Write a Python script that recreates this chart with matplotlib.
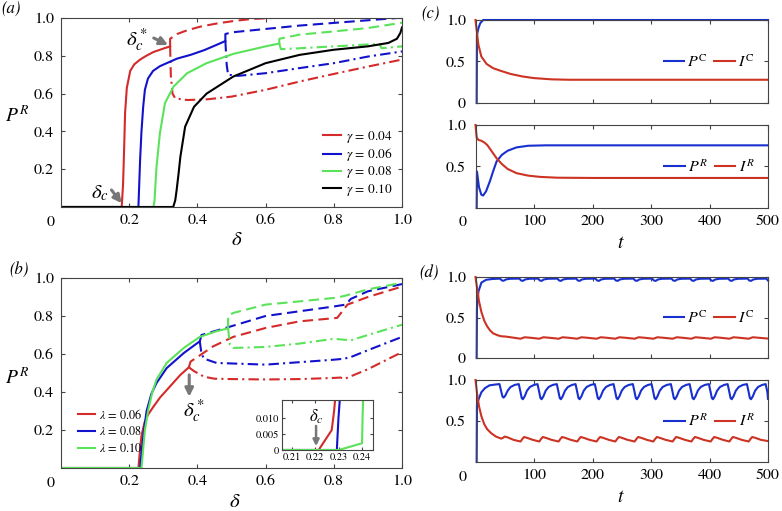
""" Bifurcation diagrams and time series of P/I fractions """
import matplotlib
matplotlib.use('Agg')
import matplotlib.pyplot as plt

# ---------------- panel (a): P^R vs delta, several gamma ----------------
GAMMA_LABELS = ['0.04', '0.06', '0.08', '0.10']

A_SOLID_D = [
    [0, 0.178, 0.182, 0.185, 0.188, 0.193, 0.203, 0.215, 0.232, 0.25, 0.271, 0.295, 0.32],
    [0, 0.227, 0.229, 0.232, 0.236, 0.241, 0.246, 0.255, 0.27, 0.29, 0.34, 0.38, 0.42,
     0.45, 0.482],
    [0, 0.271, 0.274, 0.28, 0.29, 0.305, 0.33, 0.37, 0.427, 0.505, 0.6, 0.64],
    [0, 0.329, 0.335, 0.339, 0.345, 0.35, 0.364, 0.39, 0.427, 0.505, 0.6, 0.7, 0.8, 0.9,
     0.96, 0.985, 0.995, 1.0],
]
A_SOLID_P = [
    [0, 0, 0.12, 0.30, 0.50, 0.63, 0.72, 0.755, 0.78, 0.80, 0.82, 0.835, 0.85],
    [0, 0, 0.10, 0.25, 0.40, 0.53, 0.62, 0.68, 0.72, 0.745, 0.785, 0.805, 0.83, 0.853,
     0.878],
    [0, 0, 0.027, 0.21, 0.39, 0.55, 0.637, 0.708, 0.761, 0.81, 0.85, 0.865],
    [0, 0, 0.035, 0.088, 0.18, 0.265, 0.425, 0.53, 0.60, 0.69, 0.761, 0.805, 0.832, 0.85,
     0.868, 0.89, 0.92, 0.95],
]
# upper (dashed) branch after delta_c*
A_UP_D = [
    [0.32, 0.32, 0.34, 0.37, 0.41, 0.46, 0.51, 0.56, 0.62],
    [0.482, 0.482, 0.5, 0.6, 0.7, 0.8, 0.9, 0.985],
    [0.64, 0.64, 0.7, 0.8, 0.9, 1.0],
    [],
]
A_UP_P = [
    [0.85, 0.89, 0.915, 0.935, 0.955, 0.972, 0.985, 0.995, 1.0],
    [0.878, 0.915, 0.924, 0.942, 0.96, 0.974, 0.988, 1.0],
    [0.865, 0.89, 0.912, 0.929, 0.947, 0.975],
    [],
]
# lower (dash-dot) branch after delta_c*
A_LO_D = [
    [0.32, 0.322, 0.327, 0.335, 0.37, 0.43, 0.5, 0.6, 0.7, 0.8, 0.9, 1.0],
    [0.482, 0.486, 0.49, 0.52, 0.6, 0.7, 0.8, 0.9, 1.0],
    [0.64, 0.645, 0.7, 0.8, 0.9, 0.935, 0.94, 1.0],
    [],
]
A_LO_P = [
    [0.85, 0.70, 0.60, 0.575, 0.566, 0.57, 0.584, 0.62, 0.664, 0.704, 0.743, 0.78],
    [0.878, 0.75, 0.70, 0.694, 0.708, 0.735, 0.761, 0.796, 0.823],
    [0.865, 0.835, 0.84, 0.85, 0.86, 0.862, 0.84, 0.85],
    [],
]

# ---------------- panel (b): P^R vs delta, several lambda ----------------
LAMBDA_LABELS = ['0.06', '0.08', '0.10']

B_SOLID_D = [
    [0, 0.227, 0.232, 0.236, 0.245, 0.255, 0.27, 0.29, 0.31, 0.33, 0.35, 0.375],
    [0, 0.232, 0.236, 0.242, 0.251, 0.265, 0.28, 0.31, 0.36, 0.407],
    [0, 0.236, 0.24, 0.246, 0.256, 0.268, 0.28, 0.31, 0.36, 0.407, 0.456, 0.49],
]
B_SOLID_P = [
    [0, 0, 0.10, 0.17, 0.24, 0.28, 0.32, 0.37, 0.41, 0.45, 0.49, 0.53],
    [0, 0, 0.08, 0.18, 0.30, 0.39, 0.447, 0.526, 0.605, 0.667],
    [0, 0, 0.08, 0.20, 0.307, 0.40, 0.465, 0.553, 0.632, 0.69, 0.72, 0.735],
]
B_UP_D = [
    [0.375, 0.38, 0.446, 0.505, 0.6, 0.7, 0.81, 0.84, 0.9, 1.0],
    [0.407, 0.412, 0.505, 0.6, 0.7, 0.8, 0.835, 0.85, 0.9, 1.0],
    [0.49, 0.49, 0.505, 0.6, 0.7, 0.8, 0.83, 0.9, 1.0],
]
B_UP_P = [
    [0.53, 0.56, 0.64, 0.69, 0.737, 0.772, 0.79, 0.86, 0.90, 0.955],
    [0.667, 0.70, 0.749, 0.80, 0.825, 0.85, 0.86, 0.89, 0.93, 0.968],
    [0.735, 0.80, 0.816, 0.86, 0.877, 0.895, 0.905, 0.94, 0.975],
]
B_LO_D = [
    [0.375, 0.39, 0.42, 0.45, 0.5, 0.6, 0.7, 0.8, 0.82, 0.83, 0.9, 1.0],
    [0.407, 0.412, 0.42, 0.456, 0.6, 0.8, 0.83, 0.85, 0.9, 1.0],
    [0.49, 0.495, 0.505, 0.6, 0.7, 0.8, 0.85, 0.9, 1.0],
]
B_LO_P = [
    [0.53, 0.51, 0.48, 0.47, 0.468, 0.466, 0.468, 0.474, 0.476, 0.468, 0.52, 0.61],
    [0.667, 0.60, 0.575, 0.553, 0.544, 0.57, 0.575, 0.584, 0.62, 0.69],
    [0.735, 0.65, 0.632, 0.637, 0.655, 0.68, 0.672, 0.70, 0.754],
]

# inset of (b): zoom near delta_c
INSET_D = [
    [0.2057, 0.2214, 0.227, 0.228, 0.2285],
    [0.2057, 0.2292, 0.2299, 0.2305],
    [0.2057, 0.230, 0.240, 0.2403, 0.2405],
]
INSET_P = [
    [0, 0, 0.0062, 0.012, 0.016],
    [0, 0, 0.010, 0.016],
    [0, 0, 0.0021, 0.012, 0.016],
]

# ---------------- panel (c): time series, steady state ----------------
C_PC_T = [2, 2.5, 5, 8, 13, 500]
C_PC = [0, 0.82, 0.90, 0.96, 1.0, 1.0]
C_IC_T = [0, 2, 5, 10, 19, 30, 42, 60, 80, 100, 130, 160, 500]
C_IC = [1.0, 0.88, 0.70, 0.56, 0.47, 0.42, 0.39, 0.35, 0.32, 0.30, 0.285, 0.28, 0.28]
C_PR_T = [2, 2.5, 6, 10, 13, 18, 25, 30, 36, 45, 55, 70, 90, 120, 500]
C_PR = [0, 0.44, 0.25, 0.16, 0.15, 0.20, 0.33, 0.44, 0.56, 0.64, 0.69, 0.73, 0.75, 0.755, 0.755]
C_IR_T = [0, 2, 5, 10, 15, 20, 25, 30, 36, 45, 55, 70, 90, 110, 140, 200, 500]
C_IR = [1.0, 0.85, 0.82, 0.81, 0.79, 0.76, 0.71, 0.66, 0.60, 0.53, 0.47, 0.42, 0.39,
        0.375, 0.365, 0.362, 0.362]

# ---------------- panel (d): time series, oscillating ----------------
D_PC_T = [2, 2.5, 5, 10, 18, 28,
          42, 45, 48, 52, 59,
          75, 78, 81, 85, 92,
          107, 110, 113, 117, 124,
          140, 143, 146, 150, 157,
          172, 175, 178, 182, 189,
          205, 208, 211, 215, 222,
          237, 240, 243, 247, 254,
          270, 273, 276, 280, 287,
          302, 305, 308, 312, 319,
          335, 338, 341, 345, 352,
          367, 370, 373, 377, 384,
          400, 403, 406, 410, 417,
          432, 435, 438, 442, 449,
          465, 468, 471, 475, 482,
          497, 500]
D_PC = [0, 0.62, 0.82, 0.93, 0.965, 0.975,
        0.98, 0.958, 0.953, 0.97, 0.978,
        0.98, 0.957, 0.952, 0.97, 0.978,
        0.98, 0.957, 0.952, 0.97, 0.978,
        0.98, 0.957, 0.952, 0.97, 0.978,
        0.98, 0.957, 0.952, 0.97, 0.978,
        0.98, 0.957, 0.952, 0.97, 0.978,
        0.98, 0.957, 0.952, 0.97, 0.978,
        0.98, 0.957, 0.952, 0.97, 0.978,
        0.98, 0.957, 0.952, 0.97, 0.978,
        0.98, 0.957, 0.952, 0.97, 0.978,
        0.98, 0.957, 0.952, 0.97, 0.978,
        0.98, 0.957, 0.952, 0.97, 0.978,
        0.98, 0.957, 0.952, 0.97, 0.978,
        0.98, 0.957, 0.952, 0.97, 0.978,
        0.98, 0.957]
D_IC_T = [0, 3, 6, 10, 15, 20, 25, 30, 38, 44, 51, 61,
          77, 84, 94, 109, 116, 126, 142, 149, 159, 174, 181, 191,
          207, 214, 224, 239, 246, 256, 272, 279, 289, 304, 311, 321,
          337, 344, 354, 369, 376, 386, 402, 409, 419, 434, 441, 451,
          467, 474, 484, 500]
D_IC = [1.0, 0.85, 0.70, 0.57, 0.46, 0.39, 0.34, 0.305, 0.28, 0.268, 0.265, 0.255,
        0.238, 0.256, 0.25, 0.238, 0.256, 0.25, 0.238, 0.256, 0.25, 0.238, 0.256, 0.25,
        0.238, 0.256, 0.25, 0.238, 0.256, 0.25, 0.238, 0.256, 0.25, 0.238, 0.256, 0.25,
        0.238, 0.256, 0.25, 0.238, 0.256, 0.25, 0.238, 0.256, 0.25, 0.238, 0.256, 0.25,
        0.238, 0.256, 0.25, 0.24]
D_PR_T = [2, 2.5, 5, 10, 16, 24, 34,
          41, 44, 46, 48, 51, 55, 60, 67,
          74, 77, 79, 81, 84, 88, 93, 100,
          106, 109, 111, 113, 116, 120, 125, 132,
          139, 142, 144, 146, 149, 153, 158, 165,
          171, 174, 176, 178, 181, 185, 190, 197,
          204, 207, 209, 211, 214, 218, 223, 230,
          236, 239, 241, 243, 246, 250, 255, 262,
          269, 272, 274, 276, 279, 283, 288, 295,
          301, 304, 306, 308, 311, 315, 320, 327,
          334, 337, 339, 341, 344, 348, 353, 360,
          366, 369, 371, 373, 376, 380, 385, 392,
          399, 402, 404, 406, 409, 413, 418, 425,
          431, 434, 436, 438, 441, 445, 450, 457,
          464, 467, 469, 471, 474, 478, 483, 490,
          496, 499, 500]
D_PR = [0, 0.70, 0.76, 0.85, 0.90, 0.935, 0.945,
        0.95, 0.86, 0.80, 0.785, 0.81, 0.87, 0.915, 0.94,
        0.95, 0.85, 0.78, 0.765, 0.80, 0.87, 0.915, 0.94,
        0.95, 0.85, 0.78, 0.765, 0.80, 0.87, 0.915, 0.94,
        0.95, 0.85, 0.78, 0.765, 0.80, 0.87, 0.915, 0.94,
        0.95, 0.85, 0.78, 0.765, 0.80, 0.87, 0.915, 0.94,
        0.95, 0.85, 0.78, 0.765, 0.80, 0.87, 0.915, 0.94,
        0.95, 0.85, 0.78, 0.765, 0.80, 0.87, 0.915, 0.94,
        0.95, 0.85, 0.78, 0.765, 0.80, 0.87, 0.915, 0.94,
        0.95, 0.85, 0.78, 0.765, 0.80, 0.87, 0.915, 0.94,
        0.95, 0.85, 0.78, 0.765, 0.80, 0.87, 0.915, 0.94,
        0.95, 0.85, 0.78, 0.765, 0.80, 0.87, 0.915, 0.94,
        0.95, 0.85, 0.78, 0.765, 0.80, 0.87, 0.915, 0.94,
        0.95, 0.85, 0.78, 0.765, 0.80, 0.87, 0.915, 0.94,
        0.95, 0.85, 0.78, 0.765, 0.80, 0.87, 0.915, 0.94,
        0.95, 0.85, 0.77]
D_IR_T = [0, 3, 6, 10, 15, 20, 27, 35, 44, 47, 50, 55, 65,
          77, 80, 83, 88, 98, 109, 112, 115, 120, 130,
          142, 145, 148, 153, 163, 174, 177, 180, 185, 195,
          207, 210, 213, 218, 228, 239, 242, 245, 250, 260,
          272, 275, 278, 283, 293, 304, 307, 310, 315, 325,
          337, 340, 343, 348, 358, 369, 372, 375, 380, 390,
          402, 405, 408, 413, 423, 434, 437, 440, 445, 455,
          467, 470, 473, 478, 488, 500]
D_IR = [1.0, 0.82, 0.68, 0.56, 0.46, 0.40, 0.35, 0.31, 0.285, 0.295, 0.31, 0.30, 0.27,
        0.25, 0.28, 0.305, 0.295, 0.27, 0.25, 0.28, 0.305, 0.295, 0.27,
        0.25, 0.28, 0.305, 0.295, 0.27, 0.25, 0.28, 0.305, 0.295, 0.27,
        0.25, 0.28, 0.305, 0.295, 0.27, 0.25, 0.28, 0.305, 0.295, 0.27,
        0.25, 0.28, 0.305, 0.295, 0.27, 0.25, 0.28, 0.305, 0.295, 0.27,
        0.25, 0.28, 0.305, 0.295, 0.27, 0.25, 0.28, 0.305, 0.295, 0.27,
        0.25, 0.28, 0.305, 0.295, 0.27, 0.25, 0.28, 0.305, 0.295, 0.27,
        0.25, 0.28, 0.305, 0.295, 0.27, 0.255]

RED = '#d42a2a'
BLUE = '#1212cc'
GREEN = '#5ae35a'
GRAY = '#777777'
CB = '#1830d0'
CR = '#cc3322'
A_COLORS = [RED, BLUE, GREEN, 'black']
B_COLORS = [RED, BLUE, GREEN]
DASHED = (0, (5, 2.6))
DASHDOT = (0, (5, 2, 1, 2))
W, H = 782, 511
FS = 11.5

plt.rcParams['font.family'] = 'STIXGeneral'
plt.rcParams['mathtext.fontset'] = 'stix'
plt.rcParams['font.size'] = FS
plt.rcParams['axes.edgecolor'] = '#444444'
plt.rcParams['axes.linewidth'] = 0.8
for ax_name in ('xtick', 'ytick'):
    plt.rcParams[ax_name + '.direction'] = 'in'
    plt.rcParams[ax_name + '.major.size'] = 3
    plt.rcParams[ax_name + '.color'] = '#444444'
    plt.rcParams[ax_name + '.labelcolor'] = 'black'
plt.rcParams['xtick.top'] = True
plt.rcParams['ytick.right'] = True

fig = plt.figure(figsize=(W / 100, H / 100), dpi=100)


def px_axes(left, top, right, bottom):
    """ Axes placed by pixel edges """
    return fig.add_axes([left / W, 1 - bottom / H, (right - left) / W, (bottom - top) / H])


def px_text(x, y, s, **kw):
    """ Figure text at a pixel position """
    kw.setdefault('ha', 'center')
    kw.setdefault('va', 'center')
    fig.text(x / W, 1 - y / H, s, **kw)


def gray_arrow(ax, xy, xytext, lw=2.2, scale=12):
    ax.annotate('', xy=xy, xytext=xytext,
                arrowprops=dict(arrowstyle='-|>', color=GRAY, lw=lw,
                                mutation_scale=scale, shrinkA=0, shrinkB=0))


def delta_axes(ax):
    ax.set_xlim(0, 1)
    ax.set_ylim(0, 1)
    ax.set_xticks([0.2, 0.4, 0.6, 0.8, 1.0])
    ax.set_xticklabels(['0.2', '0.4', '0.6', '0.8', '1.0'])
    ax.set_yticks([0.2, 0.4, 0.6, 0.8, 1.0])
    ax.set_yticklabels(['0.2', '0.4', '0.6', '0.8', '1.0'])
    ax.tick_params(axis='x', pad=5)
    ax.tick_params(axis='y', pad=5)


# ---- (a) ----
ax_a = px_axes(61, 18, 402, 207)
handles = []
for i, g in enumerate(GAMMA_LABELS):
    c = A_COLORS[i]
    h, = ax_a.plot(A_SOLID_D[i], A_SOLID_P[i], color=c, lw=1.5,
                   label=r'$\gamma\,{=}\,%s$' % g)
    handles.append(h)
    if A_UP_D[i]:
        ax_a.plot(A_UP_D[i], A_UP_P[i], color=c, lw=1.5, ls=DASHED)
        ax_a.plot(A_LO_D[i], A_LO_P[i], color=c, lw=1.5, ls=DASHDOT)
delta_axes(ax_a)
ax_a.legend(handles=handles, loc='lower right', frameon=False, fontsize=9.5,
            handlelength=1.4, handletextpad=0.4, labelspacing=0.1,
            borderaxespad=0.3)
gray_arrow(ax_a, (0.314, 0.857), (0.272, 0.894))
ax_a.text(0.222, 0.885, r'$\delta_c^*$', fontsize=15, ha='center', va='center')
gray_arrow(ax_a, (0.178, 0.02), (0.148, 0.09))
ax_a.text(0.115, 0.07, r'$\delta_c$', fontsize=15, ha='center', va='center')

# ---- (b) ----
ax_b = px_axes(61, 278, 402, 468)
handles = []
for i, l in enumerate(LAMBDA_LABELS):
    c = B_COLORS[i]
    ax_b.plot(B_UP_D[i], B_UP_P[i], color=c, lw=1.5, ls=DASHED)
    ax_b.plot(B_LO_D[i], B_LO_P[i], color=c, lw=1.5, ls=DASHDOT)
for i, l in enumerate(LAMBDA_LABELS):
    h, = ax_b.plot(B_SOLID_D[i], B_SOLID_P[i], color=B_COLORS[i], lw=1.5,
                   label=r'$\lambda\,{=}\,%s$' % l)
    handles.append(h)
delta_axes(ax_b)
ax_b.legend(handles=handles, loc='lower left', bbox_to_anchor=(0.018, 0.01),
            frameon=False, fontsize=8.8, handlelength=1.4, handletextpad=0.3,
            labelspacing=0.3)
gray_arrow(ax_b, (0.376, 0.375), (0.376, 0.49))
ax_b.text(0.39, 0.30, r'$\delta_c^*$', fontsize=15, ha='center', va='center')

# inset
ax_in = px_axes(282, 400, 373, 450)
for i in range(3):
    ax_in.plot(INSET_D[i], INSET_P[i], color=B_COLORS[i], lw=1.5)
ax_in.set_xlim(0.2057, 0.2447)
ax_in.set_ylim(0, 0.0156)
ax_in.set_xticks([0.21, 0.22, 0.23, 0.24])
ax_in.set_xticklabels(['0.21', '0.22', '0.23', '0.24'])
ax_in.set_yticks([0, 0.005, 0.010])
ax_in.set_yticklabels(['0', '0.005', '0.010'])
ax_in.tick_params(labelsize=7.5, pad=2, length=2)
gray_arrow(ax_in, (0.2203, 0.0012), (0.2203, 0.0075), lw=1.8, scale=9)
ax_in.text(0.2203, 0.0105, r'$\delta_c$', fontsize=12, ha='center', va='center')


def time_axes(ax, bottom_panel):
    ax.set_xlim(0, 500)
    ax.set_ylim(0, 1)
    ax.set_xticks([100, 200, 300, 400, 500])
    if bottom_panel:
        ax.set_xticklabels(['100', '200', '300', '400', '500'])
        ax.set_yticks([0.5, 1.0])
        ax.set_yticklabels(['0.5', '1.0'])
    else:
        ax.set_xticklabels([])
        ax.set_yticks([0, 0.5, 1.0])
        ax.set_yticklabels(['0', '0.5', '1.0'])
    ax.tick_params(axis='x', pad=5)
    ax.tick_params(axis='y', pad=7)


def time_legend(ax):
    ax.legend(loc='center right', bbox_to_anchor=(0.975, 0.5), ncol=2, frameon=False,
              fontsize=FS, handlelength=1.3, handletextpad=0.2, columnspacing=0.4,
              borderaxespad=0)


ax_c1 = px_axes(475.5, 20, 768, 103)
ax_c1.plot(C_PC_T, C_PC, color=CB, lw=1.5, clip_on=False, label=r'$P^{\mathrm{C}}$')
ax_c1.plot(C_IC_T, C_IC, color=CR, lw=1.5, clip_on=False, label=r'$I^{\mathrm{C}}$')
time_axes(ax_c1, False)
time_legend(ax_c1)

ax_c2 = px_axes(475.5, 125, 768, 208)
ax_c2.plot(C_PR_T, C_PR, color=CB, lw=1.5, clip_on=False, label=r'$P^{R}$')
ax_c2.plot(C_IR_T, C_IR, color=CR, lw=1.5, clip_on=False, label=r'$I^{R}$')
time_axes(ax_c2, True)
time_legend(ax_c2)

ax_d1 = px_axes(475.5, 277, 768, 358)
ax_d1.plot(D_PC_T, D_PC, color=CB, lw=1.5, clip_on=False, label=r'$P^{\mathrm{C}}$')
ax_d1.plot(D_IC_T, D_IC, color=CR, lw=1.5, clip_on=False, label=r'$I^{\mathrm{C}}$')
time_axes(ax_d1, False)
time_legend(ax_d1)

ax_d2 = px_axes(475.5, 380, 768, 462)
ax_d2.plot(D_PR_T, D_PR, color=CB, lw=1.5, clip_on=False, label=r'$P^{R}$')
ax_d2.plot(D_IR_T, D_IR, color=CR, lw=1.5, clip_on=False, label=r'$I^{R}$')
time_axes(ax_d2, True)
time_legend(ax_d2)

# labels placed in pixels
px_text(11, 8, '(a)', fontsize=12, style='italic')
px_text(19, 270, '(b)', fontsize=12, style='italic')
px_text(430, 13, '(c)', fontsize=12, style='italic')
px_text(429, 273, '(d)', fontsize=12, style='italic')
for y in (222, 483):
    px_text(51, y, '0', fontsize=FS)
for y in (222, 477):
    px_text(463, y, '0', fontsize=FS)
px_text(237, 240, r'$\delta$', fontsize=15)
px_text(235, 502, r'$\delta$', fontsize=15)
px_text(621, 243, r'$t$', fontsize=14)
px_text(621, 497, r'$t$', fontsize=14)
px_text(17, 116, r'$P^R$', fontsize=14)
px_text(17, 378, r'$P^R$', fontsize=14)

fig.savefig('out.png', dpi=100)
